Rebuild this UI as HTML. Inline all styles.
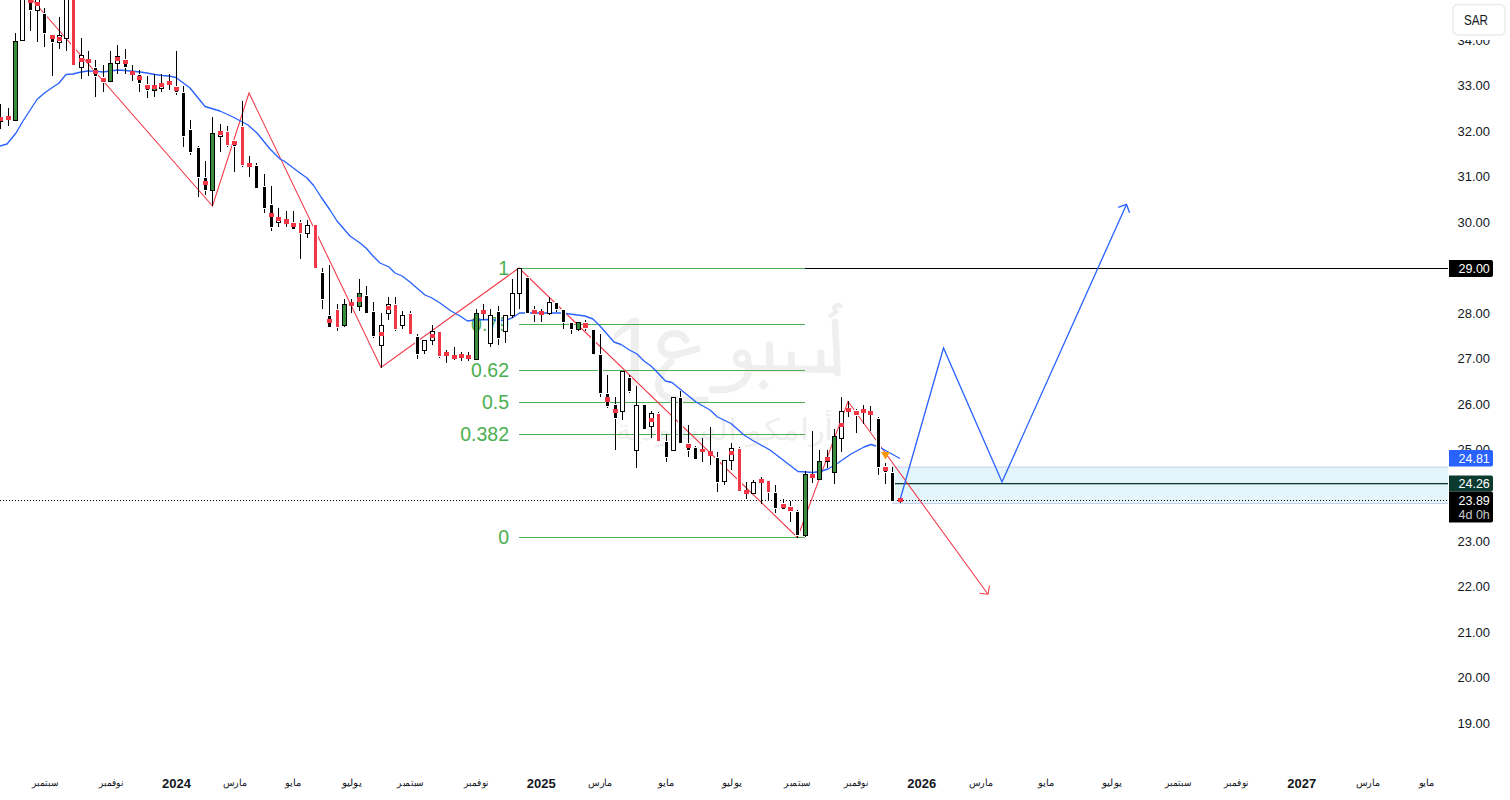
<!DOCTYPE html>
<html><head><meta charset="utf-8"><title>chart</title>
<style>
html,body{margin:0;padding:0;background:#fff;}
body{width:1510px;height:800px;overflow:hidden;position:relative;font-family:"Liberation Sans",sans-serif;}
svg{position:absolute;left:0;top:0;display:block;}
</style></head>
<body>
<svg width="1510" height="800" viewBox="0 0 1510 800">
<g fill="#000" opacity="0.06" font-family="Liberation Sans, sans-serif"><path d="M631,318 H639 V386 H631 V328 L614,339.5 V334 Z"/><g fill="none" stroke="#000" stroke-width="7" stroke-linecap="round" stroke-linejoin="round"><path d="M686,340 C681,331 667,331 662,341 C657,352 668,358 679,354 L697,349"/><path d="M671,362 C659,371 655,386 662,394 C669,401 686,401 705,400"/><circle cx="742" cy="358.5" r="6.3" stroke-width="6"/><path d="M748,362 C751,379 741,392 712,389.5"/><path d="M748,368.5 L836,369.5"/><path d="M769.5,345 L770,367"/><path d="M791.5,355 L791.5,367"/><path d="M821,353 L821,367"/><path d="M835,322 L837.5,373" stroke-width="6.5"/><path d="M840.5,306 C836,303 831.5,308 836.5,311.5 L830.5,316" stroke-width="4.5"/></g><polygon points="758,385 763.5,379.5 769,385 763.5,390.5"/><text x="615" y="440" font-size="30" textLength="218" lengthAdjust="spacingAndGlyphs">أرامكو السعودية</text></g><g fill="#4caf50" font-family="Liberation Sans, sans-serif" font-size="19.5" text-anchor="end"><rect x="519" y="268.0" width="286" height="1"/><text x="509" y="274.7">1</text><rect x="519" y="324.0" width="286" height="1"/><text x="509" y="330.7">0.79</text><rect x="519" y="370.0" width="286" height="1"/><text x="509" y="376.7">0.62</text><rect x="519" y="402.0" width="286" height="1"/><text x="509" y="408.7">0.5</text><rect x="519" y="434.0" width="286" height="1"/><text x="509" y="440.7">0.382</text><rect x="519" y="537.0" width="286" height="1"/><text x="509" y="543.7">0</text></g><rect x="805" y="268" width="643" height="1" fill="#000"/><rect x="892" y="467" width="556" height="36.5" fill="#e3f5fb"/><rect x="892" y="466.5" width="556" height="1" fill="#c8d0ee"/><rect x="892" y="503" width="556" height="1" fill="#c8d0ee"/><rect x="895" y="483" width="553" height="1.3" fill="#0b3b2e"/><line x1="0" y1="500.5" x2="1448" y2="500.5" stroke="#000" stroke-width="1" stroke-dasharray="1 2"/><polyline points="32.4,0 212.5,206 249,93 381,367.5 519,268 797.5,537.5 848,401.5 988,594.2" fill="none" stroke="#f23645" stroke-width="1.05" stroke-linejoin="miter"/><polyline points="979.5,593.2 988,594.2 989.5,585.5" fill="none" stroke="#f23645" stroke-width="1.05"/><polyline points="0,146 7,144 16,133 23,121 37,99.5 45,92.5 59,83 66,74.5 73,74 81,72 88,71 95,71.2 103,72 110,71 118,70 125,70.5 140,72 147,73 155,74.5 162,75.5 169,76 176,77.5 190,88 205,106.5 220,111 233,117 248,125 257,133 270,149 280,159 284,161 300,173 307,178 314,186 321,197 330,210 337,221 350,236 360,243 366,248 373,256 380,263 389,267 395,273 402,276 410,282 418,289 425,295 432,298 440,303 451,311 460,316 467.5,321 474,320 488,319.5 501.5,320.5 508,319.5 512.5,317.7 519.5,313 540,313 562,313 585,316 593,319 600,326 614,342 621,344.5 629.5,350 637,354 644,361 651,366 656,371 665.5,381 672,382.5 680,389 696,402 710,410 717.5,417 731,423.5 744,435 752,440 770,450 798,471.5 806,472 813,472.5 820,471.5 828,469 838,463 851,454 864,447 871,444.5 876,446 881,448 900,458.5" fill="none" stroke="#2962ff" stroke-width="1.35" stroke-linejoin="round"/><polyline points="900,500 943.5,348 1002,482 1126.5,204.4" fill="none" stroke="#2962ff" stroke-width="1.3" stroke-linejoin="miter"/><polyline points="1118.2,207.4 1126.5,204.4 1129.6,212.7" fill="none" stroke="#2962ff" stroke-width="1.3"/><g shape-rendering="crispEdges"><rect x="0.0" y="104.0" width="1" height="24.5" fill="#000"/><rect x="-1.5" y="117.5" width="4" height="4.0" fill="#fff" stroke="#000" stroke-width="1"/><rect x="8.0" y="108.0" width="1" height="17.5" fill="#000"/><rect x="15.0" y="33.0" width="1" height="87.5" fill="#000"/><rect x="13.5" y="41.0" width="4" height="79.0" fill="#388e3c" stroke="#000" stroke-width="1"/><rect x="22.0" y="-10.0" width="1" height="50.5" fill="#000"/><rect x="20.5" y="-9.5" width="4" height="49.5" fill="#fff" stroke="#000" stroke-width="1"/><rect x="30.0" y="-10.0" width="1" height="41.0" fill="#000"/><rect x="28.0" y="-11.0" width="5" height="22.0" fill="#fff"/><rect x="29.0" y="-10.0" width="3" height="20.0" fill="#000"/><rect x="37.0" y="-10.0" width="1" height="52.0" fill="#000"/><rect x="35.5" y="-9.5" width="4" height="19.5" fill="#fff" stroke="#000" stroke-width="1"/><rect x="44.0" y="8.0" width="1" height="39.0" fill="#000"/><rect x="42.0" y="13.0" width="5" height="21.0" fill="#fff"/><rect x="43.0" y="14.0" width="3" height="19.0" fill="#000"/><rect x="52.0" y="34.5" width="1" height="41.0" fill="#000"/><rect x="50.0" y="33.5" width="5" height="9.5" fill="#fff"/><rect x="51.0" y="34.5" width="3" height="7.5" fill="#000"/><rect x="59.0" y="17.0" width="1" height="32.0" fill="#000"/><rect x="57.5" y="35.5" width="4" height="6.5" fill="#fff" stroke="#000" stroke-width="1"/><rect x="66.0" y="-10.0" width="1" height="61.0" fill="#000"/><rect x="64.5" y="-9.5" width="4" height="47.5" fill="#fff" stroke="#000" stroke-width="1"/><rect x="73.0" y="-10.0" width="1" height="75.0" fill="#000"/><rect x="71.0" y="-11.0" width="5" height="77.0" fill="#fff"/><rect x="72.0" y="-10.0" width="3" height="75.0" fill="#f23645"/><rect x="81.0" y="38.0" width="1" height="40.5" fill="#000"/><rect x="79.5" y="55.0" width="4" height="12.0" fill="#fff" stroke="#000" stroke-width="1"/><rect x="88.0" y="51.0" width="1" height="24.5" fill="#000"/><rect x="95.0" y="60.0" width="1" height="36.5" fill="#000"/><rect x="93.0" y="67.0" width="5" height="9.5" fill="#fff"/><rect x="94.0" y="68.0" width="3" height="7.5" fill="#000"/><rect x="103.0" y="65.0" width="1" height="26.5" fill="#000"/><rect x="101.0" y="77.0" width="5" height="5.5" fill="#fff"/><rect x="102.0" y="78.0" width="3" height="3.5" fill="#000"/><rect x="110.0" y="51.0" width="1" height="30.5" fill="#000"/><rect x="108.5" y="63.5" width="4" height="17.5" fill="#388e3c" stroke="#000" stroke-width="1"/><rect x="117.0" y="45.0" width="1" height="29.0" fill="#000"/><rect x="115.5" y="56.5" width="4" height="6.5" fill="#fff" stroke="#000" stroke-width="1"/><rect x="125.0" y="49.0" width="1" height="25.0" fill="#000"/><rect x="123.0" y="58.5" width="5" height="9.5" fill="#fff"/><rect x="124.0" y="59.5" width="3" height="7.5" fill="#000"/><rect x="132.0" y="65.0" width="1" height="16.0" fill="#000"/><rect x="139.0" y="70.0" width="1" height="21.5" fill="#000"/><rect x="137.0" y="74.0" width="5" height="9.5" fill="#fff"/><rect x="138.0" y="75.0" width="3" height="7.5" fill="#000"/><rect x="147.0" y="76.0" width="1" height="22.0" fill="#000"/><rect x="145.0" y="84.0" width="5" height="7.0" fill="#fff"/><rect x="146.0" y="85.0" width="3" height="5.0" fill="#000"/><rect x="154.0" y="74.0" width="1" height="23.0" fill="#000"/><rect x="152.5" y="85.5" width="4" height="5.0" fill="#388e3c" stroke="#000" stroke-width="1"/><rect x="161.0" y="74.0" width="1" height="18.0" fill="#000"/><rect x="159.5" y="83.5" width="4" height="4.5" fill="#fff" stroke="#000" stroke-width="1"/><rect x="169.0" y="74.0" width="1" height="16.0" fill="#000"/><rect x="176.0" y="51.0" width="1" height="44.0" fill="#000"/><rect x="174.0" y="86.0" width="5" height="7.0" fill="#fff"/><rect x="175.0" y="87.0" width="3" height="5.0" fill="#000"/><rect x="183.0" y="86.0" width="1" height="60.5" fill="#000"/><rect x="181.0" y="92.0" width="5" height="44.5" fill="#fff"/><rect x="182.0" y="93.0" width="3" height="42.5" fill="#000"/><rect x="190.0" y="120.0" width="1" height="35.0" fill="#000"/><rect x="188.0" y="129.0" width="5" height="24.0" fill="#fff"/><rect x="189.0" y="130.0" width="3" height="22.0" fill="#000"/><rect x="198.0" y="145.5" width="1" height="51.5" fill="#000"/><rect x="196.0" y="147.0" width="5" height="30.5" fill="#fff"/><rect x="197.0" y="148.0" width="3" height="28.5" fill="#000"/><rect x="205.0" y="161.0" width="1" height="34.0" fill="#000"/><rect x="203.0" y="177.0" width="5" height="14.0" fill="#fff"/><rect x="204.0" y="178.0" width="3" height="12.0" fill="#000"/><rect x="212.0" y="117.0" width="1" height="88.5" fill="#000"/><rect x="210.5" y="133.5" width="4" height="56.5" fill="#388e3c" stroke="#000" stroke-width="1"/><rect x="220.0" y="124.0" width="1" height="28.0" fill="#000"/><rect x="218.5" y="131.5" width="4" height="4.5" fill="#fff" stroke="#000" stroke-width="1"/><rect x="227.0" y="126.0" width="1" height="21.0" fill="#000"/><rect x="225.0" y="131.0" width="5" height="14.5" fill="#fff"/><rect x="226.0" y="132.0" width="3" height="12.5" fill="#f23645"/><rect x="234.0" y="140.0" width="1" height="32.0" fill="#000"/><rect x="232.0" y="140.0" width="5" height="6.5" fill="#fff"/><rect x="233.0" y="141.0" width="3" height="4.5" fill="#000"/><rect x="242.0" y="101.0" width="1" height="66.0" fill="#000"/><rect x="240.0" y="126.0" width="5" height="39.5" fill="#fff"/><rect x="241.0" y="127.0" width="3" height="37.5" fill="#f23645"/><rect x="249.0" y="156.0" width="1" height="21.0" fill="#000"/><rect x="256.0" y="163.0" width="1" height="25.0" fill="#000"/><rect x="254.0" y="165.0" width="5" height="24.0" fill="#fff"/><rect x="255.0" y="166.0" width="3" height="22.0" fill="#000"/><rect x="264.0" y="174.0" width="1" height="39.0" fill="#000"/><rect x="262.0" y="186.0" width="5" height="23.0" fill="#fff"/><rect x="263.0" y="187.0" width="3" height="21.0" fill="#000"/><rect x="271.0" y="186.0" width="1" height="45.0" fill="#000"/><rect x="269.0" y="204.0" width="5" height="24.0" fill="#fff"/><rect x="270.0" y="205.0" width="3" height="22.0" fill="#000"/><rect x="278.0" y="208.0" width="1" height="19.0" fill="#000"/><rect x="276.5" y="217.5" width="4" height="5.0" fill="#fff" stroke="#000" stroke-width="1"/><rect x="286.0" y="211.0" width="1" height="16.0" fill="#000"/><rect x="293.0" y="211.0" width="1" height="18.0" fill="#000"/><rect x="291.0" y="222.0" width="5" height="8.0" fill="#fff"/><rect x="292.0" y="223.0" width="3" height="6.0" fill="#000"/><rect x="300.0" y="220.0" width="1" height="39.0" fill="#000"/><rect x="298.0" y="222.0" width="5" height="12.0" fill="#fff"/><rect x="299.0" y="223.0" width="3" height="10.0" fill="#f23645"/><rect x="307.0" y="220.0" width="1" height="18.0" fill="#000"/><rect x="305.5" y="225.0" width="4" height="8.5" fill="#fff" stroke="#000" stroke-width="1"/><rect x="315.0" y="225.0" width="1" height="42.5" fill="#000"/><rect x="313.0" y="224.0" width="5" height="44.5" fill="#fff"/><rect x="314.0" y="225.0" width="3" height="42.5" fill="#f23645"/><rect x="322.0" y="268.0" width="1" height="41.0" fill="#000"/><rect x="320.0" y="272.0" width="5" height="27.5" fill="#fff"/><rect x="321.0" y="273.0" width="3" height="25.5" fill="#000"/><rect x="329.0" y="265.0" width="1" height="62.0" fill="#000"/><rect x="327.0" y="315.0" width="5" height="13.0" fill="#fff"/><rect x="328.0" y="316.0" width="3" height="11.0" fill="#000"/><rect x="337.0" y="304.0" width="1" height="27.0" fill="#000"/><rect x="335.0" y="309.0" width="5" height="18.5" fill="#fff"/><rect x="336.0" y="310.0" width="3" height="16.5" fill="#f23645"/><rect x="344.0" y="299.0" width="1" height="28.0" fill="#000"/><rect x="342.5" y="304.5" width="4" height="21.0" fill="#388e3c" stroke="#000" stroke-width="1"/><rect x="351.0" y="299.0" width="1" height="14.0" fill="#000"/><rect x="359.0" y="279.0" width="1" height="32.0" fill="#000"/><rect x="357.5" y="293.5" width="4" height="12.5" fill="#388e3c" stroke="#000" stroke-width="1"/><rect x="366.0" y="286.0" width="1" height="26.5" fill="#000"/><rect x="364.0" y="295.0" width="5" height="18.5" fill="#fff"/><rect x="365.0" y="296.0" width="3" height="16.5" fill="#000"/><rect x="373.0" y="302.0" width="1" height="35.5" fill="#000"/><rect x="371.0" y="311.0" width="5" height="25.5" fill="#fff"/><rect x="372.0" y="312.0" width="3" height="23.5" fill="#000"/><rect x="381.0" y="313.0" width="1" height="54.5" fill="#000"/><rect x="379.5" y="325.5" width="4" height="19.5" fill="#fff" stroke="#000" stroke-width="1"/><rect x="388.0" y="297.0" width="1" height="23.0" fill="#000"/><rect x="386.5" y="304.5" width="4" height="8.5" fill="#fff" stroke="#000" stroke-width="1"/><rect x="395.0" y="297.0" width="1" height="34.0" fill="#000"/><rect x="393.0" y="304.0" width="5" height="26.0" fill="#fff"/><rect x="394.0" y="305.0" width="3" height="24.0" fill="#f23645"/><rect x="402.0" y="311.0" width="1" height="18.0" fill="#000"/><rect x="400.5" y="315.5" width="4" height="9.5" fill="#fff" stroke="#000" stroke-width="1"/><rect x="410.0" y="311.0" width="1" height="23.0" fill="#000"/><rect x="408.0" y="313.0" width="5" height="22.0" fill="#fff"/><rect x="409.0" y="314.0" width="3" height="20.0" fill="#f23645"/><rect x="417.0" y="334.0" width="1" height="25.0" fill="#000"/><rect x="415.0" y="336.0" width="5" height="18.5" fill="#fff"/><rect x="416.0" y="337.0" width="3" height="16.5" fill="#000"/><rect x="424.0" y="340.0" width="1" height="14.0" fill="#000"/><rect x="422.5" y="340.5" width="4" height="9.5" fill="#fff" stroke="#000" stroke-width="1"/><rect x="432.0" y="325.0" width="1" height="20.0" fill="#000"/><rect x="430.5" y="331.5" width="4" height="8.5" fill="#fff" stroke="#000" stroke-width="1"/><rect x="439.0" y="332.0" width="1" height="26.0" fill="#000"/><rect x="437.0" y="331.0" width="5" height="25.5" fill="#fff"/><rect x="438.0" y="332.0" width="3" height="23.5" fill="#f23645"/><rect x="446.0" y="350.0" width="1" height="13.0" fill="#000"/><rect x="454.0" y="347.0" width="1" height="13.0" fill="#000"/><rect x="461.0" y="352.0" width="1" height="9.0" fill="#000"/><rect x="468.0" y="352.0" width="1" height="8.5" fill="#000"/><rect x="476.0" y="309.0" width="1" height="50.5" fill="#000"/><rect x="474.5" y="313.5" width="4" height="45.5" fill="#388e3c" stroke="#000" stroke-width="1"/><rect x="483.0" y="304.0" width="1" height="16.0" fill="#000"/><rect x="490.0" y="309.0" width="1" height="38.0" fill="#000"/><rect x="488.5" y="315.5" width="4" height="27.5" fill="#fff" stroke="#000" stroke-width="1"/><rect x="498.0" y="306.0" width="1" height="39.0" fill="#000"/><rect x="496.0" y="311.0" width="5" height="27.5" fill="#fff"/><rect x="497.0" y="312.0" width="3" height="25.5" fill="#000"/><rect x="505.0" y="315.0" width="1" height="28.0" fill="#000"/><rect x="503.5" y="315.5" width="4" height="15.5" fill="#fff" stroke="#000" stroke-width="1"/><rect x="512.0" y="279.0" width="1" height="39.0" fill="#000"/><rect x="510.5" y="293.5" width="4" height="21.5" fill="#fff" stroke="#000" stroke-width="1"/><rect x="519.0" y="268.0" width="1" height="40.5" fill="#000"/><rect x="517.5" y="268.5" width="4" height="24.5" fill="#fff" stroke="#000" stroke-width="1"/><rect x="527.0" y="278.0" width="1" height="35.0" fill="#000"/><rect x="525.0" y="277.0" width="5" height="37.0" fill="#fff"/><rect x="526.0" y="278.0" width="3" height="35.0" fill="#000"/><rect x="534.0" y="306.0" width="1" height="16.0" fill="#000"/><rect x="532.0" y="309.0" width="5" height="6.0" fill="#fff"/><rect x="533.0" y="310.0" width="3" height="4.0" fill="#000"/><rect x="541.0" y="309.0" width="1" height="13.0" fill="#000"/><rect x="549.0" y="297.0" width="1" height="18.0" fill="#000"/><rect x="547.5" y="302.5" width="4" height="10.5" fill="#fff" stroke="#000" stroke-width="1"/><rect x="556.0" y="303.0" width="1" height="9.0" fill="#000"/><rect x="554.0" y="302.0" width="5" height="8.0" fill="#fff"/><rect x="555.0" y="303.0" width="3" height="6.0" fill="#000"/><rect x="563.0" y="310.0" width="1" height="19.0" fill="#000"/><rect x="561.0" y="309.0" width="5" height="13.5" fill="#fff"/><rect x="562.0" y="310.0" width="3" height="11.5" fill="#000"/><rect x="571.0" y="323.0" width="1" height="11.0" fill="#000"/><rect x="569.0" y="322.0" width="5" height="7.5" fill="#fff"/><rect x="570.0" y="323.0" width="3" height="5.5" fill="#000"/><rect x="578.0" y="322.0" width="1" height="9.0" fill="#000"/><rect x="576.5" y="322.5" width="4" height="7.0" fill="#388e3c" stroke="#000" stroke-width="1"/><rect x="585.0" y="320.0" width="1" height="11.0" fill="#000"/><rect x="583.0" y="322.0" width="5" height="7.0" fill="#fff"/><rect x="584.0" y="323.0" width="3" height="5.0" fill="#000"/><rect x="593.0" y="330.0" width="1" height="25.0" fill="#000"/><rect x="591.0" y="329.0" width="5" height="25.5" fill="#fff"/><rect x="592.0" y="330.0" width="3" height="23.5" fill="#000"/><rect x="600.0" y="334.0" width="1" height="62.5" fill="#000"/><rect x="598.0" y="354.0" width="5" height="39.5" fill="#fff"/><rect x="599.0" y="355.0" width="3" height="37.5" fill="#000"/><rect x="607.0" y="375.0" width="1" height="33.0" fill="#000"/><rect x="605.0" y="393.0" width="5" height="13.5" fill="#fff"/><rect x="606.0" y="394.0" width="3" height="11.5" fill="#000"/><rect x="615.0" y="397.0" width="1" height="52.5" fill="#000"/><rect x="613.0" y="404.0" width="5" height="14.5" fill="#fff"/><rect x="614.0" y="405.0" width="3" height="12.5" fill="#000"/><rect x="622.0" y="370.5" width="1" height="49.0" fill="#000"/><rect x="620.5" y="371.0" width="4" height="40.0" fill="#fff" stroke="#000" stroke-width="1"/><rect x="629.0" y="375.0" width="1" height="17.5" fill="#000"/><rect x="627.0" y="377.0" width="5" height="15.0" fill="#fff"/><rect x="628.0" y="378.0" width="3" height="13.0" fill="#000"/><rect x="636.0" y="386.0" width="1" height="81.5" fill="#000"/><rect x="634.5" y="405.0" width="4" height="45.0" fill="#fff" stroke="#000" stroke-width="1"/><rect x="644.0" y="405.0" width="1" height="23.5" fill="#000"/><rect x="642.0" y="404.0" width="5" height="25.5" fill="#fff"/><rect x="643.0" y="405.0" width="3" height="23.5" fill="#000"/><rect x="651.0" y="411.0" width="1" height="26.5" fill="#000"/><rect x="649.5" y="413.5" width="4" height="13.0" fill="#fff" stroke="#000" stroke-width="1"/><rect x="658.0" y="412.0" width="1" height="28.5" fill="#000"/><rect x="656.0" y="413.0" width="5" height="28.5" fill="#fff"/><rect x="657.0" y="414.0" width="3" height="26.5" fill="#f23645"/><rect x="666.0" y="434.0" width="1" height="27.5" fill="#000"/><rect x="664.0" y="441.0" width="5" height="16.5" fill="#fff"/><rect x="665.0" y="442.0" width="3" height="14.5" fill="#000"/><rect x="673.0" y="397.0" width="1" height="53.5" fill="#000"/><rect x="671.5" y="397.5" width="4" height="52.5" fill="#fff" stroke="#000" stroke-width="1"/><rect x="680.0" y="391.0" width="1" height="51.5" fill="#000"/><rect x="678.0" y="397.0" width="5" height="46.5" fill="#fff"/><rect x="679.0" y="398.0" width="3" height="44.5" fill="#000"/><rect x="688.0" y="425.0" width="1" height="32.0" fill="#000"/><rect x="686.0" y="443.0" width="5" height="7.5" fill="#fff"/><rect x="687.0" y="444.0" width="3" height="5.5" fill="#000"/><rect x="695.0" y="446.0" width="1" height="12.5" fill="#000"/><rect x="693.0" y="447.0" width="5" height="12.5" fill="#fff"/><rect x="694.0" y="448.0" width="3" height="10.5" fill="#000"/><rect x="702.0" y="438.0" width="1" height="24.0" fill="#000"/><rect x="710.0" y="427.0" width="1" height="38.0" fill="#000"/><rect x="717.0" y="452.0" width="1" height="40.0" fill="#000"/><rect x="715.0" y="457.0" width="5" height="25.5" fill="#fff"/><rect x="716.0" y="458.0" width="3" height="23.5" fill="#000"/><rect x="724.0" y="460.0" width="1" height="25.0" fill="#000"/><rect x="722.5" y="460.5" width="4" height="20.5" fill="#fff" stroke="#000" stroke-width="1"/><rect x="731.0" y="443.0" width="1" height="27.0" fill="#000"/><rect x="729.5" y="448.5" width="4" height="11.5" fill="#fff" stroke="#000" stroke-width="1"/><rect x="739.0" y="447.0" width="1" height="43.5" fill="#000"/><rect x="737.0" y="448.0" width="5" height="43.5" fill="#fff"/><rect x="738.0" y="449.0" width="3" height="41.5" fill="#f23645"/><rect x="746.0" y="482.0" width="1" height="17.0" fill="#000"/><rect x="753.0" y="480.0" width="1" height="13.5" fill="#000"/><rect x="751.5" y="482.5" width="4" height="10.5" fill="#fff" stroke="#000" stroke-width="1"/><rect x="761.0" y="477.0" width="1" height="27.0" fill="#000"/><rect x="768.0" y="481.0" width="1" height="20.0" fill="#000"/><rect x="766.0" y="480.0" width="5" height="12.5" fill="#fff"/><rect x="767.0" y="481.0" width="3" height="10.5" fill="#f23645"/><rect x="775.0" y="485.0" width="1" height="28.0" fill="#000"/><rect x="773.0" y="492.0" width="5" height="16.5" fill="#fff"/><rect x="774.0" y="493.0" width="3" height="14.5" fill="#000"/><rect x="783.0" y="499.0" width="1" height="10.0" fill="#000"/><rect x="781.0" y="503.0" width="5" height="7.0" fill="#fff"/><rect x="782.0" y="504.0" width="3" height="5.0" fill="#000"/><rect x="790.0" y="501.0" width="1" height="21.0" fill="#000"/><rect x="788.0" y="505.5" width="5" height="6.5" fill="#fff"/><rect x="789.0" y="506.5" width="3" height="4.5" fill="#000"/><rect x="797.0" y="510.0" width="1" height="28.0" fill="#000"/><rect x="795.0" y="511.0" width="5" height="24.5" fill="#fff"/><rect x="796.0" y="512.0" width="3" height="22.5" fill="#000"/><rect x="805.0" y="471.0" width="1" height="66.0" fill="#000"/><rect x="803.5" y="474.5" width="4" height="60.5" fill="#388e3c" stroke="#000" stroke-width="1"/><rect x="812.0" y="431.0" width="1" height="52.0" fill="#000"/><rect x="819.0" y="450.0" width="1" height="29.5" fill="#000"/><rect x="817.5" y="461.5" width="4" height="17.5" fill="#388e3c" stroke="#000" stroke-width="1"/><rect x="827.0" y="450.0" width="1" height="18.0" fill="#000"/><rect x="825.5" y="457.5" width="4" height="3.5" fill="#fff" stroke="#000" stroke-width="1"/><rect x="834.0" y="429.0" width="1" height="55.0" fill="#000"/><rect x="832.5" y="436.5" width="4" height="35.5" fill="#388e3c" stroke="#000" stroke-width="1"/><rect x="841.0" y="397.0" width="1" height="55.0" fill="#000"/><rect x="839.5" y="411.5" width="4" height="26.5" fill="#fff" stroke="#000" stroke-width="1"/><rect x="848.0" y="401.0" width="1" height="16.0" fill="#000"/><rect x="856.0" y="409.0" width="1" height="24.0" fill="#000"/><rect x="854.0" y="410.0" width="5" height="6.0" fill="#fff"/><rect x="855.0" y="411.0" width="3" height="4.0" fill="#000"/><rect x="863.0" y="405.0" width="1" height="19.0" fill="#000"/><rect x="870.0" y="406.0" width="1" height="25.0" fill="#000"/><rect x="878.0" y="417.0" width="1" height="57.5" fill="#000"/><rect x="876.0" y="418.0" width="5" height="49.5" fill="#fff"/><rect x="877.0" y="419.0" width="3" height="47.5" fill="#000"/><rect x="885.0" y="463.0" width="1" height="20.5" fill="#000"/><rect x="883.0" y="466.0" width="5" height="6.5" fill="#fff"/><rect x="884.0" y="467.0" width="3" height="4.5" fill="#000"/><rect x="892.0" y="467.0" width="1" height="33.5" fill="#000"/><rect x="890.0" y="472.0" width="5" height="29.5" fill="#fff"/><rect x="891.0" y="473.0" width="3" height="27.5" fill="#000"/><rect x="900.0" y="498.0" width="1" height="4.5" fill="#000"/></g><g shape-rendering="crispEdges"><rect x="-2.0" y="117.0" width="5" height="4.0" fill="#f23645"/><rect x="6.0" y="116.0" width="5" height="4.0" fill="#f23645"/><rect x="28.0" y="-2.0" width="5" height="4.5" fill="#f23645"/><rect x="35.0" y="2.0" width="5" height="3.5" fill="#f23645"/><rect x="50.0" y="35.0" width="5" height="4.0" fill="#f23645"/><rect x="57.0" y="36.5" width="5" height="4.0" fill="#f23645"/><rect x="79.0" y="58.0" width="5" height="4.0" fill="#f23645"/><rect x="86.0" y="59.0" width="5" height="4.0" fill="#f23645"/><rect x="93.0" y="70.0" width="5" height="4.0" fill="#f23645"/><rect x="101.0" y="78.0" width="5" height="4.0" fill="#f23645"/><rect x="115.0" y="56.5" width="5" height="4.0" fill="#f23645"/><rect x="123.0" y="60.0" width="5" height="4.0" fill="#f23645"/><rect x="130.0" y="71.0" width="5" height="4.0" fill="#f23645"/><rect x="137.0" y="76.0" width="5" height="4.0" fill="#f23645"/><rect x="145.0" y="84.5" width="5" height="4.5" fill="#f23645"/><rect x="152.0" y="85.0" width="5" height="4.0" fill="#f23645"/><rect x="159.0" y="83.0" width="5" height="4.0" fill="#f23645"/><rect x="167.0" y="81.0" width="5" height="4.0" fill="#f23645"/><rect x="174.0" y="87.0" width="5" height="4.0" fill="#f23645"/><rect x="203.0" y="181.0" width="5" height="4.0" fill="#f23645"/><rect x="218.0" y="131.0" width="5" height="3.5" fill="#f23645"/><rect x="232.0" y="141.0" width="5" height="4.0" fill="#f23645"/><rect x="247.0" y="163.0" width="5" height="4.0" fill="#f23645"/><rect x="269.0" y="213.0" width="5" height="4.0" fill="#f23645"/><rect x="276.0" y="217.0" width="5" height="4.0" fill="#f23645"/><rect x="284.0" y="219.0" width="5" height="5.0" fill="#f23645"/><rect x="291.0" y="223.0" width="5" height="4.0" fill="#f23645"/><rect x="327.0" y="318.5" width="5" height="4.5" fill="#f23645"/><rect x="349.0" y="302.0" width="5" height="4.0" fill="#f23645"/><rect x="357.0" y="297.0" width="5" height="4.5" fill="#f23645"/><rect x="379.0" y="332.0" width="5" height="4.0" fill="#f23645"/><rect x="386.0" y="306.0" width="5" height="4.0" fill="#f23645"/><rect x="430.0" y="334.0" width="5" height="4.0" fill="#f23645"/><rect x="444.0" y="352.0" width="5" height="4.0" fill="#f23645"/><rect x="452.0" y="355.0" width="5" height="4.0" fill="#f23645"/><rect x="459.0" y="354.0" width="5" height="4.0" fill="#f23645"/><rect x="466.0" y="355.0" width="5" height="4.0" fill="#f23645"/><rect x="481.0" y="310.0" width="5" height="4.0" fill="#f23645"/><rect x="532.0" y="310.0" width="5" height="4.0" fill="#f23645"/><rect x="539.0" y="311.0" width="5" height="4.0" fill="#f23645"/><rect x="583.0" y="323.0" width="5" height="4.5" fill="#f23645"/><rect x="605.0" y="397.0" width="5" height="4.5" fill="#f23645"/><rect x="613.0" y="409.0" width="5" height="4.0" fill="#f23645"/><rect x="649.0" y="418.0" width="5" height="4.0" fill="#f23645"/><rect x="686.0" y="444.0" width="5" height="4.0" fill="#f23645"/><rect x="700.0" y="448.5" width="5" height="3.5" fill="#f23645"/><rect x="708.0" y="451.0" width="5" height="5.0" fill="#f23645"/><rect x="729.0" y="451.0" width="5" height="4.0" fill="#f23645"/><rect x="744.0" y="490.0" width="5" height="4.0" fill="#f23645"/><rect x="759.0" y="479.0" width="5" height="4.0" fill="#f23645"/><rect x="781.0" y="504.0" width="5" height="4.0" fill="#f23645"/><rect x="788.0" y="506.5" width="5" height="4.0" fill="#f23645"/><rect x="810.0" y="474.0" width="5" height="4.0" fill="#f23645"/><rect x="825.0" y="457.0" width="5" height="4.0" fill="#f23645"/><rect x="839.0" y="422.5" width="5" height="4.0" fill="#f23645"/><rect x="846.0" y="408.0" width="5" height="4.0" fill="#f23645"/><rect x="854.0" y="411.0" width="5" height="4.0" fill="#f23645"/><rect x="861.0" y="409.0" width="5" height="4.0" fill="#f23645"/><rect x="868.0" y="411.0" width="5" height="4.0" fill="#f23645"/><rect x="883.0" y="467.0" width="5" height="4.0" fill="#f23645"/><rect x="898.0" y="498.0" width="5" height="4.0" fill="#f23645"/></g><polygon points="881,452 890,452 885.5,459.5" fill="#ff9800"/><g fill="#131722" font-family="Liberation Sans, sans-serif" font-size="13"><text x="1457.5" y="44.6">34.00</text><text x="1457.5" y="90.1">33.00</text><text x="1457.5" y="135.6">32.00</text><text x="1457.5" y="181.2">31.00</text><text x="1457.5" y="226.7">30.00</text><text x="1457.5" y="317.8">28.00</text><text x="1457.5" y="363.3">27.00</text><text x="1457.5" y="408.9">26.00</text><text x="1457.5" y="454.4">25.00</text><text x="1457.5" y="545.5">23.00</text><text x="1457.5" y="591.0">22.00</text><text x="1457.5" y="636.6">21.00</text><text x="1457.5" y="682.1">20.00</text><text x="1457.5" y="727.7">19.00</text></g><rect x="1449" y="0" width="61" height="40" fill="#fff"/><rect x="1453" y="4.5" width="52" height="30.5" rx="5" fill="#fff" stroke="#ebebeb" stroke-width="1.5"/><text x="1464" y="25" font-family="Liberation Sans, sans-serif" font-size="14" fill="#131722" textLength="24" lengthAdjust="spacingAndGlyphs">SAR</text><path d="M1449,260 H1491 Q1493,260 1493,262 V275 Q1493,277 1491,277 H1449 Z" fill="#000"/><text x="1458.5" y="273" font-family="Liberation Sans, sans-serif" font-size="12.5" fill="#fff">29.00</text><path d="M1449,450 H1491 Q1493,450 1493,452 V464.5 Q1493,466.5 1491,466.5 H1449 Z" fill="#2962ff"/><text x="1458.5" y="462.7" font-family="Liberation Sans, sans-serif" font-size="12.5" fill="#fff">24.81</text><path d="M1449,475.5 H1491 Q1493,475.5 1493,477.5 V489.5 Q1493,491.5 1491,491.5 H1449 Z" fill="#0b3b2e"/><text x="1458.5" y="488" font-family="Liberation Sans, sans-serif" font-size="12.5" fill="#fff">24.26</text><path d="M1449,491.5 H1491 Q1493,491.5 1493,493.5 V520.5 Q1493,522.5 1491,522.5 H1449 Z" fill="#000"/><text x="1458.5" y="505" font-family="Liberation Sans, sans-serif" font-size="12.5" fill="#fff">23.89</text><text x="1458.5" y="519" font-family="Liberation Sans, sans-serif" font-size="12.5" fill="#c8c8c8">4d 0h</text><g fill="#131722" font-family="Liberation Sans, sans-serif"><text x="31.9" y="786.3" font-size="9.8" textLength="26" lengthAdjust="spacingAndGlyphs">سبتمبر</text><text x="98.6" y="786.3" font-size="9.8" textLength="24.8" lengthAdjust="spacingAndGlyphs">نوفمبر</text><text x="176.4" y="788" font-weight="bold" font-size="13" text-anchor="middle">2024</text><text x="222.8" y="786.3" font-size="9.8" textLength="23.8" lengthAdjust="spacingAndGlyphs">مارس</text><text x="285.1" y="786.3" font-size="9.8" textLength="15.9" lengthAdjust="spacingAndGlyphs">مايو</text><text x="341.9" y="786.3" font-size="9.8" textLength="19.9" lengthAdjust="spacingAndGlyphs">يوليو</text><text x="397.4" y="786.3" font-size="9.8" textLength="26" lengthAdjust="spacingAndGlyphs">سبتمبر</text><text x="463.9" y="786.3" font-size="9.8" textLength="24.8" lengthAdjust="spacingAndGlyphs">نوفمبر</text><text x="541.3" y="788" font-weight="bold" font-size="13" text-anchor="middle">2025</text><text x="588.3" y="786.3" font-size="9.8" textLength="23.8" lengthAdjust="spacingAndGlyphs">مارس</text><text x="658.1" y="786.3" font-size="9.8" textLength="15.9" lengthAdjust="spacingAndGlyphs">مايو</text><text x="722.0" y="786.3" font-size="9.8" textLength="19.9" lengthAdjust="spacingAndGlyphs">يوليو</text><text x="784.4" y="786.3" font-size="9.8" textLength="26" lengthAdjust="spacingAndGlyphs">سبتمبر</text><text x="843.6" y="786.3" font-size="9.8" textLength="24.8" lengthAdjust="spacingAndGlyphs">نوفمبر</text><text x="921.7" y="788" font-weight="bold" font-size="13" text-anchor="middle">2026</text><text x="968.6" y="786.3" font-size="9.8" textLength="23.8" lengthAdjust="spacingAndGlyphs">مارس</text><text x="1038.0" y="786.3" font-size="9.8" textLength="15.9" lengthAdjust="spacingAndGlyphs">مايو</text><text x="1102.0" y="786.3" font-size="9.8" textLength="19.9" lengthAdjust="spacingAndGlyphs">يوليو</text><text x="1165.0" y="786.3" font-size="9.8" textLength="26" lengthAdjust="spacingAndGlyphs">سبتمبر</text><text x="1223.9" y="786.3" font-size="9.8" textLength="24.8" lengthAdjust="spacingAndGlyphs">نوفمبر</text><text x="1301.8" y="788" font-weight="bold" font-size="13" text-anchor="middle">2027</text><text x="1356.0" y="786.3" font-size="9.8" textLength="23.8" lengthAdjust="spacingAndGlyphs">مارس</text><text x="1418.5" y="786.3" font-size="9.8" textLength="15.9" lengthAdjust="spacingAndGlyphs">مايو</text></g>
</svg>
</body></html>
